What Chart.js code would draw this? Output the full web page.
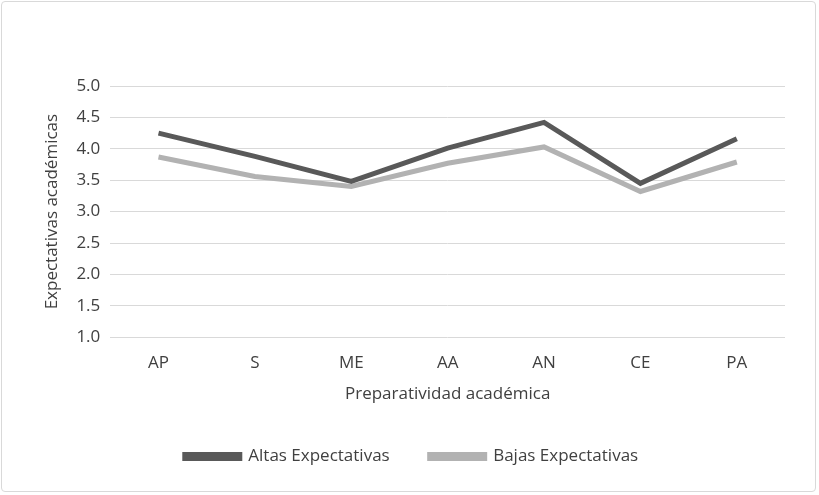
<!DOCTYPE html>
<html>
<head>
<meta charset="utf-8">
<script src="https://cdn.jsdelivr.net/npm/chart.js@4"></script>
<style>
  body { margin: 0; background: #fff; }
  #wrap { position: absolute; left: 1px; top: 1px; width: 815px; height: 491px; border: 1px solid #d9d9d9; border-radius: 4px; box-sizing: border-box; }
  canvas { display: block; }
</style>
</head>
<body>
<div id="wrap"><canvas id="chart"></canvas></div>
<script>
const categories = ['AP', 'S', 'ME', 'AA', 'AN', 'CE', 'PA'];
const altas = [4.25, 3.88, 3.48, 4.01, 4.42, 3.45, 4.16];
const bajas = [3.87, 3.56, 3.40, 3.77, 4.03, 3.32, 3.79];

Chart.defaults.font.family = '"Open Sans", sans-serif';
Chart.defaults.font.size = 17;
Chart.defaults.color = '#404040';

new Chart(document.getElementById('chart'), {
    type: 'line',
    data: {
        labels: categories,
        datasets: [
            { label: 'Altas Expectativas', data: altas, borderColor: '#595959', backgroundColor: '#595959', borderWidth: 5, pointRadius: 0, tension: 0 },
            { label: 'Bajas Expectativas', data: bajas, borderColor: '#b2b2b2', backgroundColor: '#b2b2b2', borderWidth: 5, pointRadius: 0, tension: 0 },
        ],
    },
    options: {
        responsive: true,
        maintainAspectRatio: false,
        animation: false,
        layout: { padding: { left: 36, right: 30, top: 84, bottom: 16 } },
        plugins: {
            legend: {
                position: 'bottom',
                labels: { boxWidth: 55, boxHeight: 4, padding: 40, color: '#404040' },
            },
            tooltip: { enabled: false },
        },
        scales: {
            x: {
                offset: true,
                grid: { display: false, offset: true },
                border: { display: false },
                ticks: { padding: 8 },
                title: { display: true, text: 'Preparatividad académica', font: { size: 17 }, padding: { top: 2 } },
            },
            y: {
                min: 1, max: 5,
                ticks: { stepSize: 0.5, callback: v => v.toFixed(1), padding: 10 },
                grid: { color: '#d9d9d9', drawTicks: false },
                border: { display: false },
                title: { display: true, text: 'Expectativas académicas', font: { size: 17 } },
            },
        },
    },
});
</script>
</body>
</html>
